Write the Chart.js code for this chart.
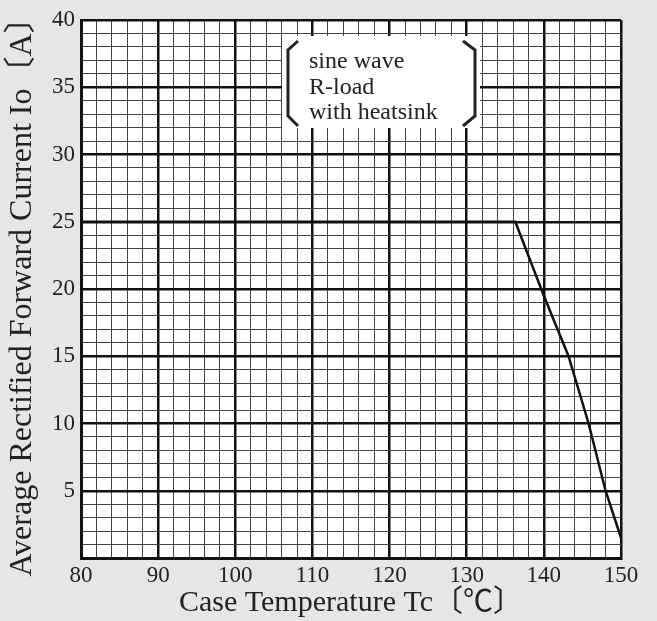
<!DOCTYPE html>
<html>
<head>
<meta charset="utf-8">
<script src="https://cdn.jsdelivr.net/npm/chart.js@4"></script>
<style>
  html, body { margin: 0; padding: 0; background: #e6e6e6; }
  canvas { display: block; }
</style>
</head>
<body>
<canvas id="myChart" width="657" height="621"></canvas>
<script>
// derating curve
const temps = [80, 136.3, 140, 143.2, 145.8, 148, 150]
const current = [25, 25, 19.5, 15, 10, 5, 1.5]
const xTicks = [80, 90, 100, 110, 120, 130, 140, 150]
const yTicks = [5, 10, 15, 20, 25, 30, 35, 40]
const noteLines = ['sine wave', 'R-load', 'with heatsink']

const serif = "'Liberation Serif', 'Noto Sans CJK JP', serif"

// white plot area under the grid
const plotBg = {
  id: 'plotBg',
  beforeDraw(chart) {
    const { ctx, chartArea: a } = chart
    ctx.save()
    ctx.fillStyle = '#ffffff'
    ctx.fillRect(a.left, a.top, a.right - a.left, a.bottom - a.top)
    ctx.restore()
  }
}

// bracketed note box in the top of the plot
const noteBox = {
  id: 'noteBox',
  afterDraw(chart) {
    const { ctx, chartArea: a } = chart
    const l = a.left + 201, t = a.top + 16, w = 198, h = 92
    ctx.save()
    ctx.fillStyle = '#ffffff'
    ctx.fillRect(l, t, w, h)
    ctx.strokeStyle = '#222'
    ctx.lineWidth = 3
    ctx.beginPath()
    ctx.moveTo(l + 16, t + 5)
    ctx.lineTo(l + 6, t + 14)
    ctx.lineTo(l + 6, t + 80)
    ctx.lineTo(l + 16, t + 90)
    ctx.moveTo(l + w - 17, t + 5)
    ctx.lineTo(l + w - 5, t + 14)
    ctx.lineTo(l + w - 5, t + 80)
    ctx.lineTo(l + w - 17, t + 90)
    ctx.stroke()
    ctx.fillStyle = '#222'
    ctx.font = '24px ' + serif
    ctx.textBaseline = 'middle'
    noteLines.forEach((s, i) => ctx.fillText(s, l + 27, t + 26 + i * 25.5))
    ctx.restore()
  }
}

const ctx = document.getElementById('myChart').getContext('2d')

new Chart(ctx, {
  type: 'line',
  data: {
    datasets: [
      {
        data: temps.map((x, i) => ({ x: x, y: current[i] })),
        borderColor: '#111',
        borderWidth: 2.5,
        pointRadius: 0,
        tension: 0,
        fill: false
      }
    ]
  },
  options: {
    responsive: false,
    animation: false,
    layout: { padding: { top: 20, right: 36, left: 0, bottom: 0 } },
    plugins: { legend: { display: false }, tooltip: { enabled: false } },
    scales: {
      x: {
        type: 'linear',
        min: 80,
        max: 150,
        afterFit: (s) => { s.height = 63 },
        ticks: {
          stepSize: 2,
          autoSkip: false,
          maxRotation: 0,
          padding: 4,
          color: '#222',
          font: { family: serif, size: 23 },
          callback: (v) => xTicks.includes(v) ? v : ''
        },
        grid: {
          drawTicks: false,
          color: (c) => xTicks.includes(c.tick.value) ? '#111' : '#444',
          lineWidth: (c) => xTicks.includes(c.tick.value) ? 2.5 : 1
        },
        border: { color: '#111', width: 3 },
        title: {
          display: true,
          text: 'Case Temperature Tc〔℃〕',
          color: '#222',
          font: { family: serif, size: 30 },
          padding: { top: 0, bottom: 0 }
        }
      },
      y: {
        min: 0,
        max: 40,
        afterFit: (s) => { s.width = 81 },
        ticks: {
          stepSize: 1,
          autoSkip: false,
          padding: 6,
          color: '#222',
          font: { family: serif, size: 23 },
          callback: (v) => yTicks.includes(v) ? v : ''
        },
        grid: {
          drawTicks: false,
          color: (c) => yTicks.includes(c.tick.value) ? '#111' : '#444',
          lineWidth: (c) => yTicks.includes(c.tick.value) ? 2.5 : 1
        },
        border: { color: '#111', width: 3 },
        title: {
          display: true,
          text: 'Average Rectified Forward Current Io〔A〕',
          color: '#222',
          font: { family: serif, size: 32 },
          padding: { top: 3, bottom: 0 }
        }
      }
    }
  },
  plugins: [plotBg, noteBox]
})
</script>
</body>
</html>
